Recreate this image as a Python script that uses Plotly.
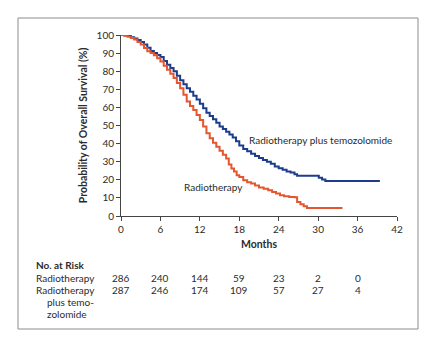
import plotly.graph_objects as go

# Kaplan-Meier estimates (months, % surviving), step curves
rt_months = [0, 0.5, 1.0, 1.5, 2.0, 2.5, 3.0, 3.5, 4.0, 4.5, 5.0, 5.5, 6.0, 6.5, 7.0, 7.5,
             8.0, 8.5, 9.0, 9.5, 10.0, 10.5, 11.0, 11.5, 12.0, 12.5, 13.0, 13.5, 14.0,
             14.5, 15.0, 15.5, 16.0, 16.4, 16.8, 17.2, 17.6, 18.0, 18.6, 19.2, 19.8,
             20.4, 21.0, 21.7, 22.4, 23.0, 23.6, 24.2, 24.8, 25.6, 26.4, 26.8, 27.3,
             27.8, 28.3, 33.7]
rt_surv = [100, 99.6, 99.0, 98.3, 97.5, 96.2, 94.8, 92.8, 91.0, 90.0, 88.8, 87.2, 85.4,
           83.0, 80.8, 78.6, 76.2, 73.5, 70.6, 67.0, 63.2, 60.8, 58.6, 55.8, 53.0,
           49.4, 45.7, 43.0, 40.5, 38.2, 36.0, 33.8, 31.8, 28.5, 26.2, 24.6, 22.5,
           21.6, 19.8, 18.6, 17.9, 16.8, 15.8, 15.0, 14.2, 13.3, 12.4, 11.5, 10.9,
           10.5, 10.4, 7.8, 6.5, 5.4, 4.4, 4.4]

tmz_months = [0, 0.5, 1.0, 1.5, 2.0, 2.5, 3.0, 3.5, 4.0, 4.5, 5.0, 5.5, 6.0, 6.5, 7.0,
              7.5, 8.0, 8.5, 9.0, 9.5, 10.0, 10.5, 11.0, 11.5, 12.0, 12.5, 13.0, 13.5,
              14.0, 14.5, 15.0, 15.5, 16.0, 16.5, 17.0, 17.5, 18.0, 18.6, 19.2, 19.8,
              20.4, 21.0, 21.6, 22.2, 22.8, 23.4, 24.0, 24.6, 25.2, 25.8, 26.4, 26.8,
              30.1, 30.6, 31.1, 39.4]
tmz_surv = [100, 99.8, 99.4, 98.8, 98.0, 97.2, 96.2, 94.8, 93.0, 91.2, 90.0, 89.0, 87.8,
            85.6, 83.5, 81.8, 80.0, 77.5, 75.0, 72.8, 70.6, 68.6, 66.4, 64.3, 62.0,
            59.5, 57.0, 55.2, 53.4, 51.5, 49.5, 48.0, 46.6, 45.0, 43.4, 41.3, 39.0,
            37.0, 35.8, 34.4, 33.2, 32.0, 31.0, 30.0, 28.8, 27.4, 26.4, 25.6, 24.6,
            24.0, 23.0, 22.2, 21.2, 20.1, 19.4, 19.4]

risk_months = [0, 6, 12, 18, 24, 30, 36]
risk_rt = [286, 240, 144, 59, 23, 2, 0]
risk_tmz = [287, 246, 174, 109, 57, 27, 4]
x_ticks = [0, 6, 12, 18, 24, 30, 36, 42]
y_ticks = [0, 10, 20, 30, 40, 50, 60, 70, 80, 90, 100]

W, H = 437, 348
L, R, T, B = 121, 40, 35, 132
PW, PH = W - L - R, H - T - B


def px(x):
    return (x - L) / PW


def py(y):
    return (H - B - y) / PH


FONT = "Lato"
TXT = "#2b2b2b"
BLUE = "#1d3c8c"
RED = "#e4572e"

fig = go.Figure()
fig.add_trace(go.Scatter(x=tmz_months, y=tmz_surv, mode="lines", line_shape="hv",
                         line=dict(color=BLUE, width=2), showlegend=False))
fig.add_trace(go.Scatter(x=rt_months, y=rt_surv, mode="lines", line_shape="hv",
                         line=dict(color=RED, width=2), showlegend=False))

ann = []
ann.append(dict(x=19.2, y=42, xref="x", yref="y", text="Radiotherapy plus temozolomide",
                showarrow=False, xanchor="left", yanchor="middle",
                font=dict(family=FONT, size=10, color=TXT)))
ann.append(dict(x=9.25, y=16, xref="x", yref="y", text="Radiotherapy",
                showarrow=False, xanchor="left", yanchor="middle",
                font=dict(family=FONT, size=10, color=TXT)))

# Number-at-risk table
rows = [("No. at Risk", 265, True, 34), ("Radiotherapy", 278, False, 34),
        ("Radiotherapy", 290, False, 34), ("plus temo-", 302, False, 45),
        ("zolomide", 314, False, 45)]
for text, ypix, bold, xpix in rows:
    ann.append(dict(x=px(xpix), y=py(ypix), xref="paper", yref="paper",
                    text=f"<b>{text}</b>" if bold else text, showarrow=False,
                    xanchor="left", yanchor="middle",
                    font=dict(family=FONT, size=10, color=TXT)))
for vals, ypix in ((risk_rt, 278), (risk_tmz, 290)):
    for m, v in zip(risk_months, vals):
        ann.append(dict(x=m, y=py(ypix), xref="x", yref="paper", text=str(v),
                        showarrow=False, xanchor="center", yanchor="middle",
                        font=dict(family=FONT, size=10, color=TXT)))

fig.update_layout(
    width=W, height=H,
    margin=dict(l=L, r=R, t=T, b=B, autoexpand=False),
    paper_bgcolor="white", plot_bgcolor="white",
    annotations=ann,
    shapes=[dict(type="rect", xref="paper", yref="paper",
                 x0=px(18), x1=px(418), y0=py(329), y1=py(18),
                 line=dict(color="#8c8c8c", width=1))],
    xaxis=dict(range=[0, 42], tickvals=x_ticks, showgrid=False, zeroline=False,
               showline=True, linecolor="#444", linewidth=1, ticks="outside",
               ticklen=4, tickcolor="#444",
               tickfont=dict(family=FONT, size=10, color=TXT),
               title=dict(text="<b>Months</b>", standoff=6,
                          font=dict(family=FONT, size=10.5, color=TXT))),
    yaxis=dict(range=[0, 100], tickvals=y_ticks, showgrid=False, zeroline=False,
               showline=True, linecolor="#444", linewidth=1, ticks="outside",
               ticklen=4, tickcolor="#444",
               tickfont=dict(family=FONT, size=10, color=TXT),
               title=dict(text="<b>Probability of Overall Survival (%)</b>", standoff=6,
                          font=dict(family=FONT, size=10.5, color=TXT))),
)

fig.write_html("out.html")
